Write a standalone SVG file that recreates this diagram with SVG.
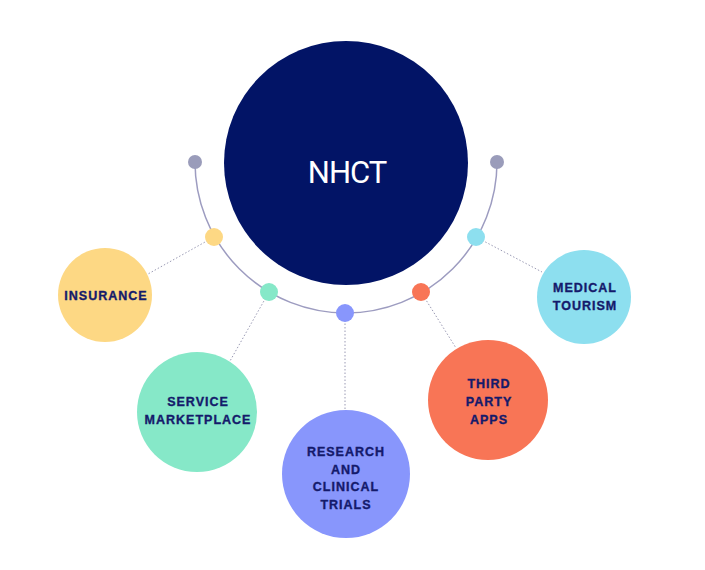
<svg xmlns="http://www.w3.org/2000/svg" width="705" height="570" viewBox="0 0 705 570">
<style>
.lbl{font-family:"Liberation Sans",Arial,sans-serif;font-weight:bold;font-size:12.5px;letter-spacing:1px;fill:#141a6b;stroke:#141a6b;stroke-width:0.35;text-anchor:middle}
.conn{stroke:#9a9ab4;stroke-width:1;stroke-dasharray:1.5 2;fill:none}
.arc{stroke:#9d9cc0;stroke-width:1.5;fill:none}
</style>
<rect width="705" height="570" fill="#ffffff"/>
<g id="connectors">
<path class="arc" d="M195,162 A151,151 0 0 0 497,162"/>
<line class="conn" x1="214" y1="237" x2="148" y2="274"/>
<line class="conn" x1="269" y1="292" x2="230" y2="361"/>
<line class="conn" x1="345" y1="313" x2="345" y2="410"/>
<line class="conn" x1="421" y1="292" x2="456" y2="348"/>
<line class="conn" x1="476" y1="237" x2="542" y2="272"/>
</g>
<g id="hub">
<circle cx="346" cy="163" r="122" fill="#021466"/>
<text x="347" y="183" font-family="Roboto,'Liberation Sans',sans-serif" font-size="31" letter-spacing="-1" fill="#ffffff" text-anchor="middle">NHCT</text>
</g>
<g id="dots">
<circle cx="195" cy="162" r="7" fill="#9a9cba"/>
<circle cx="497" cy="162" r="7" fill="#9a9cba"/>
<circle cx="214" cy="237" r="9" fill="#fdd884"/>
<circle cx="269" cy="292" r="9" fill="#86e8c8"/>
<circle cx="345" cy="313" r="9" fill="#8896fc"/>
<circle cx="421" cy="292" r="9" fill="#f87556"/>
<circle cx="476" cy="237" r="9" fill="#8ddfef"/>
</g>
<g id="insurance">
<circle cx="105" cy="295" r="47" fill="#fdd884"/>
<text class="lbl" x="106" y="300">INSURANCE</text>
</g>
<g id="service-marketplace">
<circle cx="197" cy="412" r="60" fill="#86e8c8"/>
<text class="lbl" x="198" y="406">SERVICE</text>
<text class="lbl" x="198" y="424">MARKETPLACE</text>
</g>
<g id="research">
<circle cx="346" cy="474" r="64" fill="#8896fc"/>
<text class="lbl" x="346" y="456">RESEARCH</text>
<text class="lbl" x="346" y="474">AND</text>
<text class="lbl" x="346" y="491">CLINICAL</text>
<text class="lbl" x="346" y="509">TRIALS</text>
</g>
<g id="third-party">
<circle cx="488" cy="400" r="60" fill="#f87556"/>
<text class="lbl" x="489" y="388">THIRD</text>
<text class="lbl" x="489" y="406">PARTY</text>
<text class="lbl" x="489" y="424">APPS</text>
</g>
<g id="medical-tourism">
<circle cx="584" cy="297" r="47" fill="#8ddfef"/>
<text class="lbl" x="585" y="292">MEDICAL</text>
<text class="lbl" x="585" y="310">TOURISM</text>
</g>
</svg>
